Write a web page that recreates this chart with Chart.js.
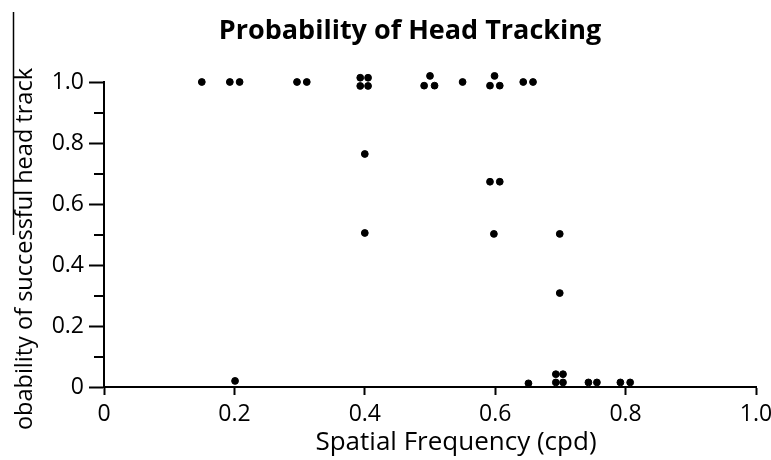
<!DOCTYPE html>
<html>
<head>
<meta charset="utf-8">
<style>
  html, body { margin: 0; padding: 0; background: #fff; }
</style>
<script src="https://cdn.jsdelivr.net/npm/chart.js@4.4.0/dist/chart.umd.min.js"></script>
</head>
<body>
<canvas id="chart" width="771" height="460"></canvas>
<script>
// Data (x jittered within each frequency column)
const freqs = [
  0.150, 0.193, 0.208, 0.296, 0.311,
  0.393, 0.405, 0.393, 0.405,
  0.500, 0.491, 0.507, 0.550,
  0.599, 0.592, 0.607, 0.643, 0.658,
  0.400, 0.400, 0.592, 0.607, 0.598,
  0.699, 0.699, 0.201, 0.651,
  0.693, 0.704, 0.693, 0.704,
  0.743, 0.756, 0.792, 0.807
];
const probs = [
  1.000, 1.000, 1.000, 1.000, 1.000,
  1.014, 1.014, 0.987, 0.987,
  1.020, 0.988, 0.988, 1.000,
  1.020, 0.988, 0.988, 1.000, 1.000,
  0.764, 0.505, 0.673, 0.673, 0.502,
  0.502, 0.308, 0.020, 0.012,
  0.042, 0.042, 0.015, 0.015,
  0.015, 0.015, 0.015, 0.015
];
const tickLabels = ['0', '0.2', '0.4', '0.6', '0.8', '1.0'];
const minorTicks = [0.1, 0.3, 0.5, 0.7, 0.9];

const chartTitle = 'Probability of Head Tracking';
const xTitle = 'Spatial Frequency (cpd)';
const yTitle = 'Probability of successful head track';

const family = '"Open Sans", "DejaVu Sans", sans-serif';

// let the jittered points sitting just above 1.0 be drawn
const looseArea = {
  id: 'looseArea',
  beforeDatasetsDraw(chart) {
    chart._savedTop = chart.chartArea.top;
    chart.chartArea.top -= 20;
  },
  afterDatasetsDraw(chart) {
    chart.chartArea.top = chart._savedTop;
  }
};

// titles, rotated y label and minor y ticks
const decor = {
  id: 'decor',
  afterDraw(chart) {
    const ctx = chart.ctx;
    const y = chart.scales.y;
    ctx.save();
    ctx.fillStyle = '#000';
    ctx.strokeStyle = '#000';

    ctx.font = 'bold 27px ' + family;
    ctx.textAlign = 'center';
    ctx.textBaseline = 'alphabetic';
    ctx.fillText(chartTitle, 410, 39);

    ctx.font = '26px ' + family;
    ctx.fillText(xTitle, 456, 450);

    ctx.lineWidth = 2;
    minorTicks.forEach(v => {
      const py = Math.round(y.getPixelForValue(v));
      ctx.beginPath();
      ctx.moveTo(y.right - 10, py);
      ctx.lineTo(y.right, py);
      ctx.stroke();
    });

    ctx.lineWidth = 1.5;
    ctx.beginPath();
    ctx.moveTo(13.5, 12);
    ctx.lineTo(13.5, 235);
    ctx.stroke();

    ctx.save();
    ctx.font = '23.5px ' + family;
    const full = ctx.measureText(yTitle).width;
    const pr = ctx.measureText('Pr').width;
    ctx.beginPath();
    ctx.rect(0, 0, 60, 68 + full - pr);
    ctx.clip();
    ctx.translate(32, 68);
    ctx.rotate(-Math.PI / 2);
    ctx.textAlign = 'right';
    ctx.fillText(yTitle, 0, 0);
    ctx.restore();

    ctx.restore();
  }
};

const axisFont = { family: family, size: 23 };

new Chart(document.getElementById('chart'), {
  type: 'scatter',
  data: {
    datasets: [{
      data: freqs.map((f, i) => ({ x: f, y: probs[i] })),
      backgroundColor: '#000',
      borderColor: '#000',
      pointRadius: 3.4,
      pointHoverRadius: 3.4,
      clip: false
    }]
  },
  options: {
    responsive: false,
    animation: false,
    events: [],
    layout: { padding: { top: 82, right: 0, left: 0, bottom: 0 } },
    plugins: {
      legend: { display: false },
      tooltip: { enabled: false },
      title: { display: false }
    },
    scales: {
      x: {
        type: 'linear',
        min: 0,
        max: 1,
        ticks: {
          stepSize: 0.2,
          callback: (v, i) => tickLabels[i],
          color: '#000',
          font: axisFont,
          padding: 6,
          maxRotation: 0
        },
        grid: { drawOnChartArea: false, tickLength: 8, tickWidth: 2, tickColor: '#000' },
        border: { color: '#000', width: 2 },
        afterFit: s => { s.height = 73; s.paddingRight = 15; }
      },
      y: {
        type: 'linear',
        min: 0,
        max: 1,
        ticks: {
          stepSize: 0.2,
          callback: (v, i) => tickLabels[i],
          color: '#000',
          font: axisFont,
          padding: 5
        },
        grid: { drawOnChartArea: false, tickLength: 15, tickWidth: 2, tickColor: '#000' },
        border: { color: '#000', width: 2 },
        afterFit: s => { s.width = 104; }
      }
    }
  },
  plugins: [looseArea, decor]
});
</script>
</body>
</html>
